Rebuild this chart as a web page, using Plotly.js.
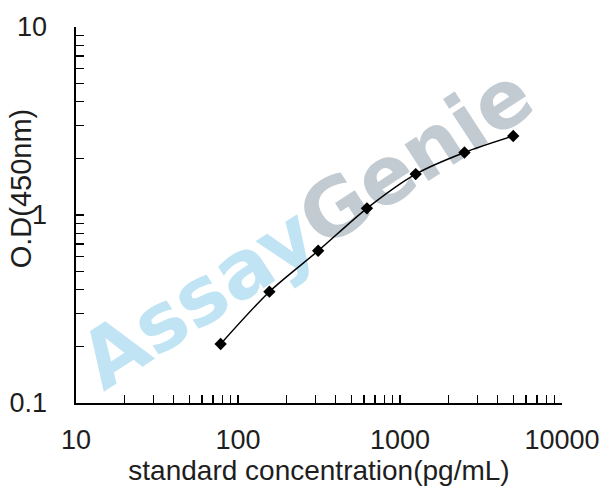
<!DOCTYPE html>
<html>
<head>
<meta charset="utf-8">
<script src="https://cdn.plot.ly/plotly-3.0.1.min.js"></script>
<style>
  html, body { margin: 0; padding: 0; background: #fff; }
  #plot { width: 608px; height: 490px; }
</style>
</head>
<body>
<div id="plot"></div>
<script>
// standard curve data
var concentration = [78.125, 156.25, 312.5, 625, 1250, 2500, 5000];
var od = [0.206, 0.391, 0.645, 1.085, 1.65, 2.15, 2.63];

var xDecades = [10, 100, 1000, 10000];
var xDecadeLabels = ['10', '100', '1000', '10000'];
var yDecades = [0.1, 1, 10];
var yDecadeLabels = ['0.1', '1', '10'];

// log ticks: label the decades, leave 2..9 unlabeled
function logTicks(decades, labels) {
    var vals = [], text = [];
    for (var i = 0; i < decades.length; ++i) {
        vals.push(decades[i]);
        text.push(labels[i]);
        if (i < decades.length - 1) {
            for (var k = 2; k < 10; ++k) {
                vals.push(decades[i] * k);
                text.push('');
            }
        }
    }
    return {vals: vals, text: text};
}

var xt = logTicks(xDecades, xDecadeLabels);
var yt = logTicks(yDecades, yDecadeLabels);

var fontFamily = 'Liberation Sans, Arial, sans-serif';
var textColor = '#1e1e1e';

var data = [{
    type: 'scatter',
    mode: 'lines+markers',
    x: concentration,
    y: od,
    line: {color: '#000', width: 1.5, shape: 'spline', smoothing: 0.8},
    marker: {symbol: 'diamond', size: 9.5, color: '#000'},
    hoverinfo: 'skip'
}];

var axisCommon = {
    type: 'log',
    showline: true,
    linecolor: '#000',
    linewidth: 1.6,
    ticks: 'inside',
    ticklen: 8,
    tickwidth: 1.3,
    tickcolor: '#000',
    showgrid: false,
    zeroline: false,
    tickmode: 'array',
    tickfont: {family: fontFamily, size: 27, color: textColor}
};

var layout = {
    width: 608,
    height: 490,
    margin: {l: 76, r: 46, t: 27, b: 87},
    paper_bgcolor: '#fff',
    plot_bgcolor: '#fff',
    showlegend: false,
    xaxis: Object.assign({}, axisCommon, {
        range: [1, 4],
        tickvals: xt.vals,
        ticktext: xt.text,
        ticklabelstandoff: 12,
        title: {
            text: 'standard concentration(pg/mL)',
            font: {family: fontFamily, size: 28, color: textColor},
            standoff: 0
        }
    }),
    yaxis: Object.assign({}, axisCommon, {
        range: [-1, 1],
        tickvals: yt.vals,
        ticktext: yt.text,
        ticklabelstandoff: 22
    }),
    annotations: [{
        text: 'O.D(450nm)',
        xref: 'paper', yref: 'paper',
        x: -0.114, y: 0.57,
        xanchor: 'center', yanchor: 'middle',
        textangle: -90,
        showarrow: false,
        font: {family: fontFamily, size: 29, color: textColor}
    }],
    shapes: [{
        // watermark, kept under the curve
        type: 'rect',
        layer: 'below',
        xref: 'paper', yref: 'paper',
        x0: 0.447, x1: 0.487, y0: 0.46, y1: 0.50,
        line: {width: 0},
        fillcolor: 'rgba(0,0,0,0)',
        label: {
            text: '<span style="color:#c0e4f4">Assay</span><span style="color:#c2cbd2">Genie</span>',
            textangle: -33,
            textposition: 'middle center',
            font: {family: 'DejaVu Sans, Arial, sans-serif', size: 80, weight: 'bold', color: '#c2cbd2'}
        }
    }]
};

Plotly.newPlot(document.getElementById('plot'), data, layout, {staticPlot: true});
</script>
</body>
</html>
